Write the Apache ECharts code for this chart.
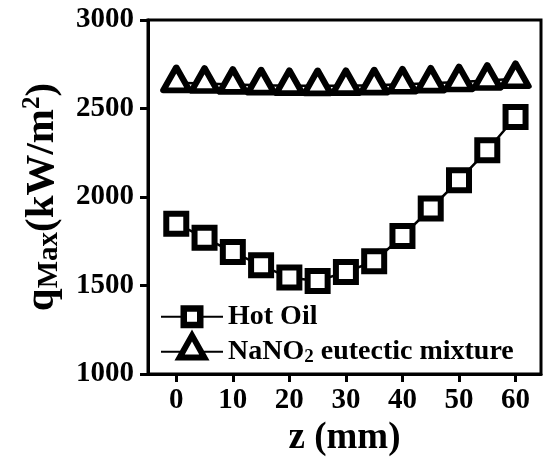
<!DOCTYPE html>
<html>
<head>
<meta charset="utf-8">
<script src="https://cdn.jsdelivr.net/npm/echarts@6/dist/echarts.min.js"></script>
<style>
html,body{margin:0;padding:0;background:#fff;}
#c{width:544px;height:462px;}
</style>
</head>
<body>
<div id="c"></div>
<script>
// ---- data ----
const zValues = [0, 5, 10, 15, 20, 25, 30, 35, 40, 45, 50, 55, 60];
const hotOil = [1849, 1770, 1689, 1614, 1545, 1526, 1576, 1637, 1779, 1935, 2095, 2264, 2452];
const nano2 = [2645, 2641, 2636, 2632, 2629, 2628, 2629, 2632, 2637, 2643, 2650, 2658, 2668];
const xTicks = [0, 10, 20, 30, 40, 50, 60];
const seriesNames = ['Hot Oil', 'NaNO2 eutectic mixture'];

const FONT = 'Liberation Serif';
const chart = echarts.init(document.getElementById('c'), null, {renderer: 'canvas'});

const squareIcon = 'path://M0,21.3 L19.5,21.3 L19.5,10.8 L42.5,10.8 L42.5,21.3 L62,21.3 L62,23.3 L42.5,23.3 L42.5,33.8 L19.5,33.8 L19.5,23.3 L0,23.3 Z M26,17.3 L26,27.3 L36,27.3 L36,17.3 Z M0,0 L0.01,0 L0,0.01 Z M0,44.6 L0.01,44.6 L0,44.59 Z';
const triIcon = 'path://M0,21.3 L18.98,21.3 L31,0 L43.02,21.3 L62,21.3 L62,23.3 L44.15,23.3 L48.5,31 L13.5,31 L17.85,23.3 L0,23.3 Z M31,12.2 L23.8,25 L38.2,25 Z M0,44.6 L0.01,44.6 L0,44.59 Z';

const pairs = (ys) => zValues.map((z, i) => [z, ys[i]]);

chart.setOption({
  animation: false,
  backgroundColor: '#fff',
  grid: {left: 148, right: 3, top: 20, bottom: 87, show: true, borderColor: '#000', borderWidth: 3, backgroundColor: 'transparent'},
  xAxis: {
    type: 'value', min: -5, max: 64.5,
    name: 'z (mm)', nameLocation: 'middle', nameGap: 46,
    nameTextStyle: {fontFamily: FONT, fontWeight: 'bold', fontSize: 37, color: '#000'},
    axisLine: {onZero: false, lineStyle: {color: '#000', width: 3}},
    axisTick: {show: true, length: 8, lineStyle: {color: '#000', width: 3}, customValues: xTicks},
    axisLabel: {fontFamily: FONT, fontWeight: 'bold', fontSize: 29, color: '#000', margin: 12, customValues: xTicks},
    splitLine: {show: false}
  },
  yAxis: {
    type: 'value', min: 1000, max: 3000, interval: 500,
    name: '{a|q}{b|Max}{a|(kW/m}{c|2}{a|)}', nameLocation: 'middle', nameGap: 84, nameRotate: 90,
    nameTextStyle: {
      fontFamily: FONT, fontWeight: 'bold', fontSize: 41, color: '#000',
      rich: {
        a: {fontFamily: FONT, fontWeight: 'bold', fontSize: 41, lineHeight: 44, color: '#000'},
        b: {fontFamily: FONT, fontWeight: 'bold', fontSize: 29, lineHeight: 18, verticalAlign: 'bottom', color: '#000'},
        c: {fontFamily: FONT, fontWeight: 'bold', fontSize: 25, lineHeight: 4, verticalAlign: 'top', color: '#000'}
      }
    },
    axisLine: {onZero: false, lineStyle: {color: '#000', width: 3}},
    axisTick: {show: true, length: 8, lineStyle: {color: '#000', width: 3}},
    axisLabel: {fontFamily: FONT, fontWeight: 'bold', fontSize: 29, color: '#000', margin: 14, formatter: (v) => String(v)},
    splitLine: {show: false}
  },
  legend: {
    orient: 'vertical', left: 161, top: 294.4, padding: 0,
    itemWidth: 62, itemHeight: 44.6, itemGap: -9.6,
    symbolKeepAspect: true,
    data: [
      {name: seriesNames[0], icon: squareIcon, itemStyle: {color: '#000', borderWidth: 0}},
      {name: seriesNames[1], icon: triIcon, itemStyle: {color: '#000', borderWidth: 0}}
    ],
    formatter: (n) => n === seriesNames[1] ? '{a|NaNO}{s|2}{a| eutectic mixture}' : '{a|' + n + '}',
    textStyle: {
      fontFamily: FONT, fontWeight: 'bold', fontSize: 28, color: '#000',
      rich: {
        a: {fontFamily: FONT, fontWeight: 'bold', fontSize: 28, lineHeight: 30, color: '#000'},
        s: {fontFamily: FONT, fontWeight: 'bold', fontSize: 19, lineHeight: 7, verticalAlign: 'bottom', color: '#000'}
      }
    }
  },
  series: [
    {
      name: seriesNames[0], type: 'line', data: pairs(hotOil),
      symbol: 'rect', symbolSize: 20,
      itemStyle: {color: '#fff', borderColor: '#000', borderWidth: 6},
      lineStyle: {color: '#000', width: 2.5}, z: 3
    },
    {
      name: seriesNames[1], type: 'line', data: pairs(nano2),
      symbol: 'triangle', symbolSize: [26, 23], symbolOffset: [0, -4],
      itemStyle: {color: '#fff', borderColor: '#000', borderWidth: 6, borderJoin: 'round'},
      lineStyle: {color: '#000', width: 2.5}, z: 4
    }
  ]
});
</script>
</body>
</html>
